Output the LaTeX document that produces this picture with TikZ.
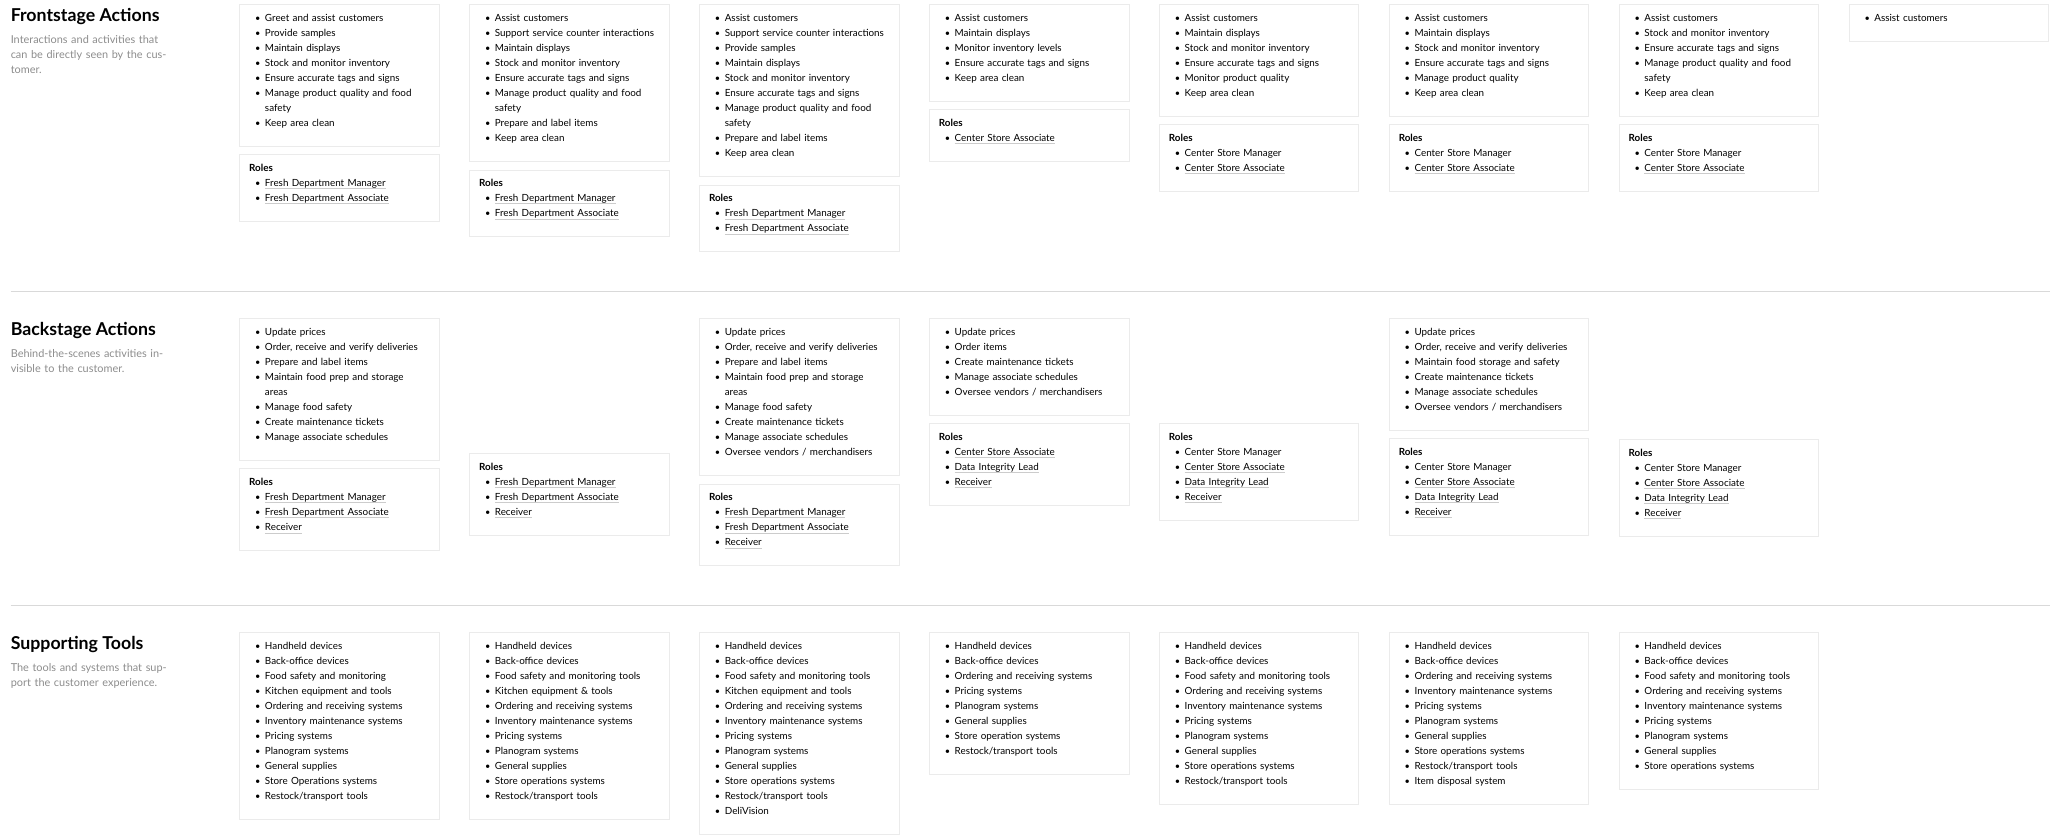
\documentclass[tikz,border=0pt]{standalone}
\usepackage{fontspec}
\setmainfont{Lato}
\usetikzlibrary{positioning}
\definecolor{cardline}{rgb}{0.92,0.92,0.92}
\definecolor{subgray}{rgb}{0.55,0.55,0.55}
\definecolor{ulgray}{rgb}{0.8,0.8,0.8}

% one bullet line, its wrapped rest, and an underlined role
\newlength\rolewd
\newcommand\bl[1]{\strut\makebox[12pt][l]{\hspace{4.5pt}{\scriptsize\textbullet}}#1}
\newcommand\blc[1]{\strut\hspace*{12pt}#1}
\newcommand\ulrole[1]{\settowidth\rolewd{#1}#1\llap{\color{ulgray}\rule[-1.6pt]{\rolewd}{0.4pt}}}
\newcommand\role[1]{\bl{\ulrole{#1}}}
\newcommand\rolehead{\strut\textbf{Roles}}
\newcommand\cardend{\rule[-10pt]{0pt}{10pt}}

\begin{document}
\begin{tikzpicture}[
            x = 1pt, y = -1pt, % screen coordinates
            card/.style = {draw = cardline, fill = white, anchor = north west,
                text width = 137pt, inner xsep = 7.5pt, inner ysep = 5pt,
                align = left, font = \fontsize{7.5}{11.45}\selectfont},
            heading/.style = {anchor = base west, inner sep = 0pt,
                font = \fontsize{13.5}{16}\selectfont\bfseries},
            subtitle/.style = {anchor = north west, inner sep = 0pt, text width = 125pt,
                align = left, text = subgray, font = \fontsize{8.3}{11.5}\selectfont},
            rule/.style = {draw = black!15, line width = 0.8pt}
        ]
        \useasboundingbox (0,0) rectangle (1568,638);

        % section titles
        \node[heading] (FH) at (8,16) {Frontstage Actions};
        \node[subtitle] (FS) at (8,27) {Interactions and activities that can be directly seen by the customer.};
        \node[heading] (BH) at (8,255) {Backstage Actions};
        \node[subtitle] (BS) at (8,266) {Behind-the-scenes activities invisible to the customer.};
        \node[heading] (TH) at (8,494) {Supporting Tools};
        \node[subtitle] (TS) at (8,505) {The tools and systems that support the customer experience.};

        \coordinate (R1a) at (8,222);
        \coordinate (R1b) at (1560,222);
        \coordinate (R2a) at (8,461);
        \coordinate (R2b) at (1560,461);
        \draw[rule] (R1a) -- (R1b);
        \draw[rule] (R2a) -- (R2b);

        % frontstage
        \node[card] (F1) at (182,3) {\bl{Greet and assist customers}\\\bl{Provide samples}\\\bl{Maintain displays}\\\bl{Stock and monitor inventory}\\\bl{Ensure accurate tags and signs}\\\bl{Manage product quality and food}\\\blc{safety}\\\bl{Keep area clean}\cardend};
        \node[card] (F1R) [below = 6pt of F1.south west, anchor = north west] {\rolehead\\\role{Fresh Department Manager}\\\role{Fresh Department Associate}\cardend};

        \node[card] (F2) at (357,3) {\bl{Assist customers}\\\bl{Support service counter interactions}\\\bl{Maintain displays}\\\bl{Stock and monitor inventory}\\\bl{Ensure accurate tags and signs}\\\bl{Manage product quality and food}\\\blc{safety}\\\bl{Prepare and label items}\\\bl{Keep area clean}\cardend};
        \node[card] (F2R) [below = 6pt of F2.south west, anchor = north west] {\rolehead\\\role{Fresh Department Manager}\\\role{Fresh Department Associate}\cardend};

        \node[card] (F3) at (532,3) {\bl{Assist customers}\\\bl{Support service counter interactions}\\\bl{Provide samples}\\\bl{Maintain displays}\\\bl{Stock and monitor inventory}\\\bl{Ensure accurate tags and signs}\\\bl{Manage product quality and food}\\\blc{safety}\\\bl{Prepare and label items}\\\bl{Keep area clean}\cardend};
        \node[card] (F3R) [below = 6pt of F3.south west, anchor = north west] {\rolehead\\\role{Fresh Department Manager}\\\role{Fresh Department Associate}\cardend};

        \node[card] (F4) at (707,3) {\bl{Assist customers}\\\bl{Maintain displays}\\\bl{Monitor inventory levels}\\\bl{Ensure accurate tags and signs}\\\bl{Keep area clean}\cardend};
        \node[card] (F4R) [below = 6pt of F4.south west, anchor = north west] {\rolehead\\\role{Center Store Associate}\cardend};

        \node[card] (F5) at (882,3) {\bl{Assist customers}\\\bl{Maintain displays}\\\bl{Stock and monitor inventory}\\\bl{Ensure accurate tags and signs}\\\bl{Monitor product quality}\\\bl{Keep area clean}\cardend};
        \node[card] (F5R) [below = 6pt of F5.south west, anchor = north west] {\rolehead\\\bl{Center Store Manager}\\\role{Center Store Associate}\cardend};

        \node[card] (F6) at (1057,3) {\bl{Assist customers}\\\bl{Maintain displays}\\\bl{Stock and monitor inventory}\\\bl{Ensure accurate tags and signs}\\\bl{Manage product quality}\\\bl{Keep area clean}\cardend};
        \node[card] (F6R) [below = 6pt of F6.south west, anchor = north west] {\rolehead\\\bl{Center Store Manager}\\\role{Center Store Associate}\cardend};

        \node[card] (F7) at (1232,3) {\bl{Assist customers}\\\bl{Stock and monitor inventory}\\\bl{Ensure accurate tags and signs}\\\bl{Manage product quality and food}\\\blc{safety}\\\bl{Keep area clean}\cardend};
        \node[card] (F7R) [below = 6pt of F7.south west, anchor = north west] {\rolehead\\\bl{Center Store Manager}\\\role{Center Store Associate}\cardend};

        \node[card] (F8) at (1407,3) {\bl{Assist customers}\cardend};

        % backstage
        \node[card] (B1) at (182,242) {\bl{Update prices}\\\bl{Order, receive and verify deliveries}\\\bl{Prepare and label items}\\\bl{Maintain food prep and storage}\\\blc{areas}\\\bl{Manage food safety}\\\bl{Create maintenance tickets}\\\bl{Manage associate schedules}\cardend};
        \node[card] (B1R) [below = 6pt of B1.south west, anchor = north west] {\rolehead\\\role{Fresh Department Manager}\\\role{Fresh Department Associate}\\\role{Receiver}\cardend};

        \node[card] (B2R) at (357,345) {\rolehead\\\role{Fresh Department Manager}\\\role{Fresh Department Associate}\\\role{Receiver}\cardend};

        \node[card] (B3) at (532,242) {\bl{Update prices}\\\bl{Order, receive and verify deliveries}\\\bl{Prepare and label items}\\\bl{Maintain food prep and storage}\\\blc{areas}\\\bl{Manage food safety}\\\bl{Create maintenance tickets}\\\bl{Manage associate schedules}\\\bl{Oversee vendors / merchandisers}\cardend};
        \node[card] (B3R) [below = 6pt of B3.south west, anchor = north west] {\rolehead\\\role{Fresh Department Manager}\\\role{Fresh Department Associate}\\\role{Receiver}\cardend};

        \node[card] (B4) at (707,242) {\bl{Update prices}\\\bl{Order items}\\\bl{Create maintenance tickets}\\\bl{Manage associate schedules}\\\bl{Oversee vendors / merchandisers}\cardend};
        \node[card] (B4R) [below = 6pt of B4.south west, anchor = north west] {\rolehead\\\role{Center Store Associate}\\\role{Data Integrity Lead}\\\role{Receiver}\cardend};

        \node[card] (B5R) at (882,322) {\rolehead\\\bl{Center Store Manager}\\\role{Center Store Associate}\\\role{Data Integrity Lead}\\\role{Receiver}\cardend};

        \node[card] (B6) at (1057,242) {\bl{Update prices}\\\bl{Order, receive and verify deliveries}\\\bl{Maintain food storage and safety}\\\bl{Create maintenance tickets}\\\bl{Manage associate schedules}\\\bl{Oversee vendors / merchandisers}\cardend};
        \node[card] (B6R) [below = 6pt of B6.south west, anchor = north west] {\rolehead\\\bl{Center Store Manager}\\\role{Center Store Associate}\\\role{Data Integrity Lead}\\\role{Receiver}\cardend};

        \node[card] (B7R) at (1232,334) {\rolehead\\\bl{Center Store Manager}\\\role{Center Store Associate}\\\role{Data Integrity Lead}\\\role{Receiver}\cardend};

        % supporting tools
        \node[card] (T1) at (182,481) {\bl{Handheld devices}\\\bl{Back-office devices}\\\bl{Food safety and monitoring}\\\bl{Kitchen equipment and tools}\\\bl{Ordering and receiving systems}\\\bl{Inventory maintenance systems}\\\bl{Pricing systems}\\\bl{Planogram systems}\\\bl{General supplies}\\\bl{Store Operations systems}\\\bl{Restock/transport tools}\cardend};
        \node[card] (T2) at (357,481) {\bl{Handheld devices}\\\bl{Back-office devices}\\\bl{Food safety and monitoring tools}\\\bl{Kitchen equipment \& tools}\\\bl{Ordering and receiving systems}\\\bl{Inventory maintenance systems}\\\bl{Pricing systems}\\\bl{Planogram systems}\\\bl{General supplies}\\\bl{Store operations systems}\\\bl{Restock/transport tools}\cardend};
        \node[card] (T3) at (532,481) {\bl{Handheld devices}\\\bl{Back-office devices}\\\bl{Food safety and monitoring tools}\\\bl{Kitchen equipment and tools}\\\bl{Ordering and receiving systems}\\\bl{Inventory maintenance systems}\\\bl{Pricing systems}\\\bl{Planogram systems}\\\bl{General supplies}\\\bl{Store operations systems}\\\bl{Restock/transport tools}\\\bl{DeliVision}\cardend};
        \node[card] (T4) at (707,481) {\bl{Handheld devices}\\\bl{Back-office devices}\\\bl{Ordering and receiving systems}\\\bl{Pricing systems}\\\bl{Planogram systems}\\\bl{General supplies}\\\bl{Store operation systems}\\\bl{Restock/transport tools}\cardend};
        \node[card] (T5) at (882,481) {\bl{Handheld devices}\\\bl{Back-office devices}\\\bl{Food safety and monitoring tools}\\\bl{Ordering and receiving systems}\\\bl{Inventory maintenance systems}\\\bl{Pricing systems}\\\bl{Planogram systems}\\\bl{General supplies}\\\bl{Store operations systems}\\\bl{Restock/transport tools}\cardend};
        \node[card] (T6) at (1057,481) {\bl{Handheld devices}\\\bl{Back-office devices}\\\bl{Ordering and receiving systems}\\\bl{Inventory maintenance systems}\\\bl{Pricing systems}\\\bl{Planogram systems}\\\bl{General supplies}\\\bl{Store operations systems}\\\bl{Restock/transport tools}\\\bl{Item disposal system}\cardend};
        \node[card] (T7) at (1232,481) {\bl{Handheld devices}\\\bl{Back-office devices}\\\bl{Food safety and monitoring tools}\\\bl{Ordering and receiving systems}\\\bl{Inventory maintenance systems}\\\bl{Pricing systems}\\\bl{Planogram systems}\\\bl{General supplies}\\\bl{Store operations systems}\cardend};
\end{tikzpicture}
\end{document}
